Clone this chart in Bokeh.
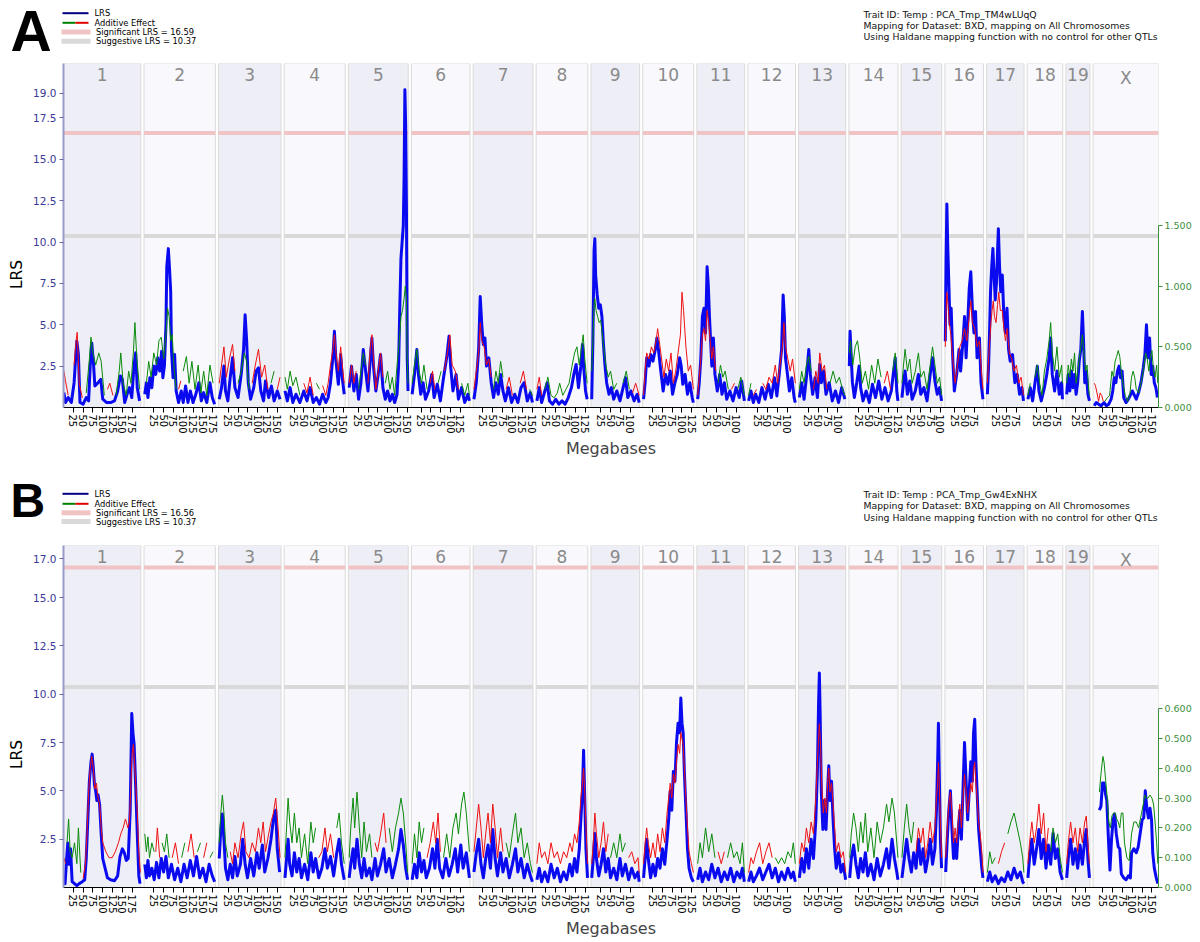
import math
from bokeh.plotting import figure
from bokeh.models import Range1d, LinearAxis, FixedTicker, CustomJSTickFormatter, NumeralTickFormatter
from bokeh.layouts import column
from bokeh.core.properties import value
from bokeh.embed import file_html
from bokeh.resources import INLINE

# ---------------- data ----------------
CHROMOSOMES = ["1", "2", "3", "4", "5", "6", "7", "8", "9", "10", "11", "12", "13",
               "14", "15", "16", "17", "18", "19", "X"]
CHR_LENGTH_MB = [197.2, 181.7, 159.6, 155.6, 152.5, 149.5, 152.5, 131.7, 124.1, 130.0,
                 121.8, 121.3, 120.3, 125.2, 103.5, 98.3, 95.3, 90.8, 61.3, 166.7]
X_TICK_MB = [25, 50, 75, 100, 125, 150, 175]

A_SIGNIFICANT = 16.59
A_SUGGESTIVE = 10.37
B_SIGNIFICANT = 16.56
B_SUGGESTIVE = 10.37
A_LRS_TICKS = [2.5, 5.0, 7.5, 10.0, 12.5, 15.0, 17.5, 19.0]
B_LRS_TICKS = [2.5, 5.0, 7.5, 10.0, 12.5, 15.0, 17.0]
A_ADD_TICKS = [0.0, 0.5, 1.0, 1.5]
B_ADD_TICKS = [0.0, 0.1, 0.2, 0.3, 0.4, 0.5, 0.6]
A_HEADER = ["Trait ID: Temp : PCA_Tmp_TM4wLUqQ",
            "Mapping for Dataset: BXD, mapping on All Chromosomes",
            "Using Haldane mapping function with no control for other QTLs"]
B_HEADER = ["Trait ID: Temp : PCA_Tmp_Gw4ExNHX",
            "Mapping for Dataset: BXD, mapping on All Chromosomes",
            "Using Haldane mapping function with no control for other QTLs"]
LEGEND_LABELS = ["LRS", "Additive Effect", "Significant LRS = %.2f", "Suggestive LRS = %.2f"]
Y_TITLE = "LRS"
X_TITLE = "Megabases"

# Panel A : (Mb, LRS) per chromosome
A_LRS_1 = [(1,0.9),(5,0.3),(12,0.6),(20,0.3),(27,1.5),(31,3.0),(34,4.0),(38,3.2),(42,0.3),(50,0.2),(58,0.6),(64,0.4),(68,2.5),(72,3.9),(76,2.8),(80,1.3),(88,1.5),(95,1.7),(100,0.5),(110,0.3),(120,0.3),(130,0.4),(138,1.0),(145,1.9),(150,1.7),(156,0.3),(162,0.8),(168,1.2),(174,0.6),(180,2.6),(184,3.3),(188,1.2),(194,0.4)]
A_LRS_2 = [(2,0.8),(6,1.5),(10,0.6),(15,1.8),(20,1.2),(25,2.5),(30,2.0),(35,3.0),(40,2.2),(45,3.4),(48,1.8),(52,2.5),(56,5.0),(58,8.5),(62,9.6),(65,8.4),(68,7.0),(70,3.5),(74,1.8),(78,3.2),(82,1.0),(88,0.3),(95,1.0),(100,0.3),(106,1.3),(112,0.3),(118,1.0),(125,0.3),(132,0.8),(140,1.5),(146,0.4),(152,0.9),(160,0.3),(168,1.5),(174,0.6),(180,0.2)]
A_LRS_3 = [(2,0.5),(8,1.2),(14,2.5),(18,1.0),(24,0.4),(30,1.8),(36,3.0),(42,1.2),(50,0.6),(58,2.0),(64,3.5),(68,5.6),(72,4.0),(76,1.5),(82,0.5),(90,1.2),(96,2.2),(102,2.4),(108,1.0),(115,0.4),(120,1.6),(128,0.6),(135,1.3),(142,0.4),(150,1.0),(157,0.5)]
A_LRS_4 = [(2,1.0),(8,0.4),(15,1.2),(22,0.3),(30,0.8),(40,0.3),(50,1.0),(58,0.4),(66,1.2),(74,0.3),(82,0.6),(90,0.2),(98,0.8),(106,0.3),(112,0.6),(118,1.5),(124,3.0),(128,4.6),(132,2.8),(138,1.4),(144,3.2),(148,1.8),(153,0.8)]
A_LRS_5 = [(2,1.2),(8,2.5),(14,1.0),(20,2.0),(26,0.5),(32,1.5),(38,3.5),(44,2.2),(50,1.0),(56,3.0),(60,4.2),(64,2.5),(70,1.0),(76,2.0),(82,3.2),(88,1.2),(94,0.5),(100,1.0),(106,0.4),(112,0.8),(118,0.3),(124,0.8),(128,2.5),(131,6.0),(134,9.0),(137,10.0),(140,11.0),(142,14.0),(144,19.2),(146,17.0),(148,12.0),(150,3.0),(152,1.0)]
A_LRS_6 = [(2,0.8),(8,2.0),(14,3.5),(18,2.0),(24,0.8),(30,1.5),(36,0.5),(44,1.0),(52,2.0),(58,0.6),(66,1.4),(74,0.4),(82,1.8),(90,3.0),(96,4.3),(100,2.5),(106,1.0),(114,2.0),(120,0.5),(128,1.2),(136,0.3),(144,0.8),(148,0.4)]
A_LRS_7 = [(2,0.5),(8,1.5),(14,3.5),(18,6.7),(22,5.0),(26,3.8),(30,4.2),(34,2.5),(40,3.0),(46,1.5),(52,0.6),(58,1.5),(64,0.8),(70,2.0),(76,1.0),(82,0.4),(90,1.2),(98,0.3),(106,0.8),(114,0.3),(122,1.2),(130,1.5),(138,0.4),(146,0.9),(151,0.3)]
A_LRS_8 = [(2,0.4),(8,1.2),(14,0.3),(20,0.8),(28,1.5),(34,0.4),(42,0.2),(50,0.5),(58,0.2),(66,0.4),(74,0.2),(82,0.6),(90,1.2),(96,2.0),(102,2.6),(108,1.2),(114,2.5),(118,3.8),(122,2.2),(126,1.0),(130,0.5)]
A_LRS_9 = [(2,0.5),(5,4.0),(8,9.5),(10,10.2),(12,8.0),(16,6.8),(20,6.0),(24,6.2),(28,5.5),(32,3.8),(36,2.5),(40,1.5),(46,0.8),(52,1.2),(58,0.5),(66,1.0),(74,0.4),(82,1.2),(88,1.8),(94,0.6),(102,1.0),(110,0.4),(118,0.8),(123,0.3)]
A_LRS_10 = [(2,0.5),(6,1.5),(10,3.0),(16,2.5),(20,3.2),(26,2.8),(32,3.5),(36,4.2),(40,3.5),(46,2.2),(52,1.0),(58,2.0),(64,1.4),(70,2.2),(76,0.8),(82,1.5),(88,2.0),(94,3.0),(98,2.5),(102,1.4),(108,2.0),(114,0.8),(120,1.5),(126,0.6),(129,0.3)]
A_LRS_11 = [(2,0.5),(6,1.5),(10,3.0),(14,5.5),(18,6.0),(22,4.5),(26,8.5),(29,7.4),(32,5.5),(35,4.0),(38,2.5),(42,4.2),(46,2.0),(52,1.0),(58,2.0),(64,0.8),(70,1.5),(76,0.5),(84,1.0),(92,0.4),(100,1.2),(108,0.6),(114,1.6),(121,0.4)]
A_LRS_12 = [(2,0.4),(8,1.0),(14,0.3),(20,0.8),(28,0.3),(36,1.2),(44,0.5),(52,1.4),(60,0.6),(68,1.8),(74,0.7),(80,2.0),(86,3.5),(90,6.8),(93,5.5),(96,3.0),(100,2.2),(106,1.0),(112,1.8),(118,0.6),(121,0.3)]
A_LRS_13 = [(2,0.6),(8,1.5),(14,0.5),(20,1.8),(26,3.5),(30,2.0),(36,0.8),(42,1.8),(48,0.6),(54,2.6),(58,1.5),(64,2.2),(70,0.8),(78,1.5),(86,0.4),(94,1.0),(102,0.3),(110,1.2),(118,0.5)]
A_LRS_14 = [(1,2.5),(3,4.6),(6,3.0),(9,1.5),(14,0.6),(20,1.5),(26,2.5),(30,1.2),(36,0.4),(44,1.0),(52,0.3),(60,1.4),(68,0.6),(76,1.6),(84,0.5),(92,1.2),(100,0.4),(108,1.0),(114,2.2),(118,3.0),(122,1.0),(125,0.4)]
A_LRS_15 = [(2,0.6),(6,1.5),(10,2.2),(16,0.8),(22,1.6),(28,0.5),(36,1.0),(44,2.0),(50,0.8),(58,1.2),(66,0.4),(74,2.0),(80,3.0),(86,1.6),(92,0.8),(98,1.2),(103,0.4)]
A_LRS_16 = [(1,4.0),(3,9.0),(5,12.3),(7,10.0),(10,7.5),(13,5.0),(16,6.0),(20,3.0),(24,1.0),(30,2.0),(36,3.5),(40,2.2),(46,4.0),(50,5.5),(54,3.0),(58,5.0),(62,7.2),(66,8.2),(70,6.0),(74,4.5),(78,5.8),(82,3.0),(88,4.2),(92,1.5),(97,0.5)]
A_LRS_17 = [(2,0.8),(5,2.5),(8,5.0),(10,7.0),(13,8.5),(16,9.6),(19,8.0),(22,6.5),(25,7.5),(28,9.5),(30,10.8),(33,8.5),(36,7.0),(40,8.0),(44,5.5),(48,4.5),(52,6.0),(56,3.5),(60,2.8),(66,3.2),(72,1.5),(78,2.0),(84,0.8),(90,1.2),(94,0.4)]
A_LRS_18 = [(2,0.5),(8,1.2),(14,0.4),(20,1.5),(26,2.5),(30,1.0),(36,0.4),(44,1.2),(50,2.0),(56,3.0),(60,4.2),(64,2.0),(70,1.0),(76,2.2),(82,0.8),(88,1.5),(90,0.5)]
A_LRS_19 = [(2,0.8),(6,2.0),(10,1.0),(14,2.2),(18,1.2),(22,2.0),(26,0.8),(30,1.5),(34,2.8),(38,3.5),(42,5.8),(45,4.0),(48,1.5),(52,2.2),(56,0.8),(60,0.4)]
A_LRS_X = [(3,0.1),(8,0.3),(14,0.2),(20,0.1),(28,0.3),(34,0.1),(40,0.2),(46,0.5),(50,1.0),(54,1.8),(58,1.5),(62,2.2),(66,2.5),(70,1.8),(74,2.2),(78,0.6),(84,0.3),(90,0.5),(96,0.8),(100,1.0),(104,0.8),(110,0.5),(116,0.9),(122,1.5),(128,2.4),(132,3.2),(136,5.0),(140,3.0),(144,4.2),(148,2.0),(152,2.5),(156,1.5),(160,1.2),(164,0.6)]

# Panel A : (Mb, additive effect) per chromosome, sign gives the colour
A_ADD_1 = [(1,-0.3),(5,-0.22),(12,-0.1),(20,0.15),(27,-0.35),(32,-0.55),(35,-0.62),(40,-0.2),(48,-0.08),(58,0.12),(66,0.4),(70,0.58),(75,0.45),(82,0.35),(90,0.45),(96,0.38),(104,0.1),(112,-0.15),(118,-0.2),(126,-0.1),(134,0.1),(142,0.3),(146,0.45),(152,0.2),(160,0.1),(166,0.3),(172,0.2),(178,0.45),(182,0.7),(187,0.4),(194,0.15)]
A_ADD_2 = [(2,-0.3),(6,0.2),(12,0.38),(18,0.25),(25,0.45),(32,0.35),(38,0.55),(44,0.58),(50,0.4),(56,0.6),(60,0.82),(64,0.75),(68,0.55),(72,0.6),(76,0.35),(82,0.15),(88,-0.15),(94,-0.22),(100,0.3),(108,0.42),(115,0.2),(122,0.38),(130,0.15),(138,0.35),(145,0.12),(152,0.3),(160,0.1),(168,0.35),(176,0.2)]
A_ADD_3 = [(2,-0.2),(8,-0.35),(14,-0.5),(20,-0.25),(28,-0.4),(36,-0.52),(42,-0.3),(50,0.2),(58,0.3),(66,0.45),(72,0.38),(78,0.15),(86,-0.2),(94,-0.35),(102,-0.48),(110,-0.25),(118,-0.35),(126,-0.15),(134,0.2),(142,0.3),(150,-0.15),(157,-0.25)]
A_ADD_4 = [(2,0.25),(8,0.15),(15,0.3),(22,0.18),(30,0.25),(40,0.1),(50,-0.2),(58,-0.12),(66,-0.25),(74,-0.1),(82,0.2),(90,0.15),(98,-0.18),(106,-0.1),(112,-0.2),(118,-0.35),(124,-0.48),(128,-0.6),(132,-0.45),(138,-0.3),(144,-0.5),(148,-0.35),(153,-0.2)]
A_ADD_5 = [(2,-0.2),(8,-0.35),(14,-0.2),(20,-0.3),(26,0.15),(32,0.3),(38,0.45),(44,0.35),(50,-0.2),(56,-0.5),(60,-0.6),(64,-0.4),(70,-0.15),(76,-0.3),(82,-0.45),(88,-0.25),(94,0.2),(100,0.3),(106,0.15),(112,0.25),(118,0.1),(124,0.35),(130,0.55),(134,0.75),(138,0.8),(142,0.9),(145,1.0),(148,0.9),(150,0.4),(152,0.2)]
A_ADD_6 = [(2,0.2),(8,0.35),(14,0.48),(20,0.3),(26,0.2),(32,0.35),(40,0.15),(48,-0.2),(54,-0.3),(60,-0.15),(68,0.2),(76,0.3),(84,-0.3),(92,-0.45),(98,-0.6),(104,-0.35),(112,-0.3),(120,-0.15),(128,0.2),(136,0.1),(144,0.2),(148,0.1)]
A_ADD_7 = [(2,-0.15),(8,-0.3),(14,-0.45),(18,-0.7),(22,-0.55),(28,-0.5),(34,-0.35),(40,-0.4),(46,-0.25),(52,0.15),(58,0.3),(64,0.2),(70,0.38),(76,0.25),(84,-0.15),(92,-0.25),(100,-0.1),(110,0.15),(120,-0.2),(128,-0.3),(136,-0.15),(144,0.15),(151,0.1)]
A_ADD_8 = [(2,-0.15),(8,-0.25),(14,-0.1),(22,0.15),(30,0.25),(38,0.1),(46,0.08),(54,0.12),(60,0.2),(68,0.1),(76,0.15),(84,0.2),(92,0.35),(98,0.45),(104,0.5),(110,0.35),(116,0.5),(120,0.6),(124,0.4),(130,0.2)]
A_ADD_9 = [(2,0.3),(5,0.55),(8,0.85),(10,0.9),(13,0.8),(17,0.75),(21,0.7),(25,0.72),(29,0.6),(33,0.48),(38,0.35),(44,0.25),(50,0.3),(58,0.15),(66,0.2),(74,-0.1),(82,0.2),(90,0.3),(98,0.15),(106,-0.12),(114,-0.2),(123,-0.1)]
A_ADD_10 = [(2,-0.1),(6,-0.3),(10,-0.45),(16,-0.4),(22,-0.5),(28,-0.45),(34,-0.55),(38,-0.65),(42,-0.55),(48,-0.4),(54,-0.25),(60,-0.4),(66,-0.3),(72,-0.45),(78,-0.2),(84,-0.3),(90,-0.45),(96,-0.6),(100,-0.95),(104,-0.8),(110,-0.5),(116,-0.3),(122,-0.35),(129,-0.15)]
A_ADD_11 = [(2,-0.1),(6,-0.25),(10,-0.4),(14,-0.6),(18,-0.65),(22,-0.55),(26,-0.8),(30,-0.7),(34,-0.55),(38,-0.4),(42,-0.5),(48,-0.3),(54,0.2),(60,0.35),(66,0.25),(72,0.3),(80,0.15),(88,-0.15),(96,-0.2),(104,0.15),(112,0.25),(121,0.1)]
A_ADD_12 = [(2,0.1),(8,0.2),(14,-0.1),(22,-0.15),(30,0.1),(38,-0.2),(46,-0.15),(54,-0.25),(62,-0.2),(70,-0.35),(76,-0.2),(82,-0.35),(88,-0.5),(92,-0.7),(96,-0.5),(102,-0.4),(108,-0.3),(114,-0.4),(121,-0.2)]
A_ADD_13 = [(2,0.15),(8,0.3),(14,0.2),(20,0.35),(26,0.42),(32,0.3),(38,-0.15),(44,-0.3),(50,-0.2),(54,-0.45),(60,-0.3),(66,-0.35),(72,-0.15),(80,0.2),(88,0.3),(96,0.2),(104,0.25),(112,0.15),(118,0.1)]
A_ADD_14 = [(1,0.45),(4,0.55),(10,0.35),(16,0.5),(22,0.55),(28,0.4),(34,0.2),(42,0.3),(50,0.15),(58,0.35),(66,0.2),(74,0.4),(82,0.25),(90,-0.2),(98,-0.3),(106,-0.15),(112,0.3),(118,0.45),(125,0.2)]
A_ADD_15 = [(2,0.2),(6,0.35),(10,0.48),(16,0.3),(22,0.4),(28,0.2),(36,0.3),(44,0.45),(50,0.25),(58,0.3),(66,0.15),(74,0.35),(80,0.5),(86,0.35),(92,0.2),(98,0.25),(103,0.1)]
A_ADD_16 = [(1,-0.5),(3,-0.8),(5,-0.95),(8,-0.85),(11,-0.7),(15,-0.6),(20,-0.4),(26,-0.2),(32,-0.35),(38,-0.5),(44,-0.55),(50,-0.65),(56,-0.55),(62,-0.75),(66,-0.88),(70,-0.7),(76,-0.65),(82,-0.5),(88,-0.55),(93,-0.3),(97,-0.15)]
A_ADD_17 = [(2,-0.2),(5,-0.4),(8,-0.55),(11,-0.7),(14,-0.8),(17,-0.88),(20,-0.75),(24,-0.7),(28,-0.85),(31,-0.95),(35,-0.8),(40,-0.8),(44,-0.65),(48,-0.55),(52,-0.65),(58,-0.45),(64,-0.4),(70,-0.3),(76,-0.35),(82,-0.2),(88,-0.25),(94,-0.1)]
A_ADD_18 = [(2,0.1),(8,0.2),(14,-0.1),(20,0.25),(26,0.35),(32,0.2),(38,0.1),(44,0.3),(50,0.4),(56,0.55),(60,0.7),(64,0.45),(70,0.3),(76,0.5),(82,0.25),(88,0.35),(90,0.2)]
A_ADD_19 = [(2,0.2),(6,0.35),(10,0.25),(14,0.4),(18,0.3),(22,0.45),(26,0.2),(30,0.3),(34,0.4),(38,0.5),(42,0.6),(46,0.45),(50,0.3),(54,0.35),(58,0.15),(60,0.1)]
A_ADD_X = [(3,-0.2),(6,-0.18),(10,-0.12),(14,-0.05),(18,-0.12),(22,-0.1),(26,-0.05),(30,0.05),(36,0.08),(42,0.1),(48,0.3),(52,0.25),(56,0.38),(60,0.42),(64,0.47),(68,0.42),(72,0.3),(76,0.2),(82,0.1),(88,0.05),(94,0.12),(98,0.25),(102,0.3),(106,0.25),(110,0.15),(116,0.12),(122,0.2),(128,0.3),(134,0.45),(138,0.4),(142,0.3),(146,0.42),(150,0.47),(154,0.3),(158,0.25),(162,0.35),(165,0.2)]

# Panel B : (Mb, LRS) per chromosome
B_LRS_1 = [(1,0.3),(4,0.2),(8,1.5),(11,2.3),(14,1.2),(18,2.0),(22,0.3),(28,0.2),(34,0.1),(40,0.2),(48,0.3),(54,0.4),(58,1.5),(62,3.5),(66,5.5),(70,6.5),(73,6.9),(76,6.2),(79,5.3),(82,5.0),(85,4.5),(88,4.8),(92,4.3),(96,2.8),(100,1.5),(106,1.0),(112,0.5),(120,0.4),(130,0.35),(138,0.6),(144,1.6),(150,2.0),(155,1.8),(160,1.4),(165,1.5),(170,4.0),(174,9.0),(177,8.0),(180,7.4),(184,5.2),(188,2.8),(192,0.6),(195,0.2)]
B_LRS_2 = [(2,1.2),(6,0.5),(10,1.4),(14,0.6),(20,1.0),(26,0.4),(32,1.3),(38,0.5),(44,1.5),(50,0.8),(56,1.6),(62,0.5),(70,1.2),(78,0.4),(86,1.0),(94,0.3),(102,1.2),(110,0.5),(118,1.4),(126,0.6),(134,1.6),(142,0.5),(150,1.0),(158,0.3),(166,1.2),(174,0.6),(180,0.3)]
B_LRS_3 = [(2,1.5),(6,3.0),(10,3.8),(14,2.5),(18,1.0),(24,0.4),(30,1.2),(36,0.5),(42,1.6),(48,0.6),(56,1.2),(62,2.5),(68,1.2),(74,0.5),(82,1.5),(90,0.6),(98,1.8),(104,1.0),(112,2.2),(118,0.8),(126,1.5),(134,2.5),(140,3.5),(146,4.0),(150,2.0),(156,0.8)]
B_LRS_4 = [(2,0.5),(6,1.5),(10,2.5),(14,1.2),(20,0.6),(26,1.8),(32,0.8),(38,1.5),(44,0.5),(52,1.2),(60,0.4),(68,1.8),(74,0.8),(80,1.5),(88,0.5),(96,1.0),(104,2.0),(110,1.0),(118,1.6),(126,0.6),(134,1.8),(140,2.5),(146,1.2),(153,0.4)]
B_LRS_5 = [(2,0.5),(6,1.2),(12,2.0),(16,1.0),(22,2.5),(28,1.2),(34,0.5),(40,1.5),(46,0.6),(54,1.0),(60,0.4),(68,1.5),(74,0.6),(82,1.2),(90,2.0),(96,0.8),(104,1.5),(112,0.5),(120,1.2),(128,2.0),(134,3.0),(140,2.2),(146,1.0),(151,0.4)]
B_LRS_6 = [(2,0.4),(8,1.2),(14,0.5),(20,1.8),(26,0.8),(32,1.4),(38,0.5),(46,1.0),(54,2.0),(60,1.0),(66,2.5),(72,1.0),(80,0.5),(88,1.5),(96,0.6),(104,1.2),(112,2.0),(118,0.8),(126,2.2),(132,1.0),(140,1.8),(148,0.5)]
B_LRS_7 = [(2,0.8),(8,1.8),(14,2.5),(20,1.2),(26,0.5),(32,1.5),(38,2.2),(44,1.0),(50,3.0),(56,1.5),(62,0.6),(70,1.8),(76,0.8),(84,1.5),(92,0.5),(100,1.2),(108,2.0),(114,0.8),(122,1.5),(130,0.5),(138,1.2),(146,0.6),(151,0.3)]
B_LRS_8 = [(2,0.4),(8,1.0),(14,0.3),(22,0.8),(30,0.3),(38,1.2),(46,0.5),(54,1.0),(62,0.3),(70,0.8),(78,0.4),(86,1.2),(92,0.6),(98,1.5),(104,0.8),(110,2.0),(114,3.5),(118,5.0),(121,7.1),(124,4.5),(127,2.0),(131,0.5)]
B_LRS_9 = [(2,0.5),(6,1.5),(10,2.8),(14,1.5),(20,0.6),(26,1.2),(32,2.0),(38,0.8),(44,1.5),(50,0.5),(58,1.0),(66,0.4),(74,1.5),(80,0.6),(88,1.2),(96,0.4),(104,1.0),(112,0.5),(120,0.8),(123,0.3)]
B_LRS_10 = [(2,0.5),(6,1.5),(10,2.5),(14,1.5),(20,0.5),(26,1.2),(32,0.6),(38,1.5),(44,1.0),(50,2.0),(56,1.2),(62,2.5),(66,3.5),(70,5.0),(74,4.0),(78,6.0),(82,5.5),(86,7.5),(90,8.5),(94,8.0),(97,9.8),(100,8.5),(103,8.0),(106,6.0),(110,4.0),(114,2.0),(118,1.0),(124,0.5),(129,0.3)]
B_LRS_11 = [(2,0.4),(8,1.0),(14,0.3),(22,0.8),(30,0.4),(38,1.2),(46,0.5),(54,1.0),(62,0.3),(70,0.8),(78,0.4),(86,1.0),(94,0.3),(102,0.8),(110,0.5),(116,1.0),(121,0.3)]
B_LRS_12 = [(2,0.3),(8,0.8),(14,0.3),(22,0.6),(30,1.0),(38,0.4),(46,0.8),(54,1.2),(62,0.5),(70,1.0),(78,0.3),(86,0.8),(94,0.4),(102,1.0),(110,0.5),(116,0.8),(121,0.3)]
B_LRS_13 = [(2,0.5),(8,1.5),(14,0.8),(20,2.0),(26,1.0),(32,2.5),(38,1.5),(44,3.5),(48,6.0),(51,9.5),(53,11.1),(55,9.0),(58,5.0),(62,3.0),(66,4.5),(70,3.0),(74,5.0),(77,6.3),(80,4.5),(84,5.5),(88,3.5),(92,2.0),(96,1.0),(102,1.8),(108,0.8),(114,1.2),(120,0.4)]
B_LRS_14 = [(2,0.5),(6,1.5),(12,2.2),(18,1.2),(24,0.5),(30,1.5),(36,0.8),(42,1.8),(48,0.6),(56,1.2),(64,0.4),(72,1.5),(80,0.6),(88,1.2),(96,2.0),(102,1.0),(110,2.5),(116,1.5),(122,0.8),(125,0.4)]
B_LRS_15 = [(2,0.5),(8,1.5),(14,2.5),(20,1.5),(26,0.8),(32,1.8),(38,1.0),(44,2.5),(50,1.2),(56,2.0),(62,0.8),(68,1.5),(74,2.5),(80,1.2),(86,2.0),(90,4.0),(93,6.5),(95,8.5),(97,6.0),(100,2.5),(103,1.0)]
B_LRS_16 = [(2,0.8),(6,2.5),(10,4.0),(14,5.0),(18,3.0),(22,1.5),(26,2.5),(30,1.5),(34,3.0),(38,4.0),(42,2.5),(46,5.0),(50,7.5),(54,5.5),(58,3.5),(62,5.0),(66,6.5),(70,5.5),(73,8.0),(76,8.7),(79,6.5),(82,5.0),(86,3.0),(90,2.0),(94,1.0),(97,0.5)]
B_LRS_17 = [(2,0.3),(8,0.8),(14,0.3),(22,0.6),(30,0.2),(38,0.5),(46,0.3),(54,0.8),(62,0.4),(70,1.0),(78,0.5),(86,0.8),(92,0.3),(95,0.2)]
B_LRS_18 = [(2,0.5),(6,1.5),(12,2.5),(18,1.2),(24,2.0),(30,3.0),(36,1.5),(42,2.5),(48,1.0),(54,2.2),(60,1.2),(66,2.8),(72,1.5),(78,2.0),(84,0.8),(90,0.4)]
B_LRS_19 = [(2,0.5),(6,1.5),(12,2.5),(18,1.2),(24,2.0),(30,1.0),(36,2.2),(42,1.2),(48,2.5),(52,3.0),(56,1.5),(60,0.5)]
B_LRS_X = [(16,4.0),(20,4.2),(24,5.4),(28,5.4),(32,4.8),(35,4.5),(38,3.0),(40,2.1),(43,0.9),(47,2.5),(51,3.5),(55,3.8),(59,2.8),(64,2.1),(68,2.0),(72,0.7),(78,0.5),(84,0.4),(90,0.6),(95,0.5),(98,1.8),(104,2.0),(110,1.8),(115,2.1),(120,2.8),(125,3.5),(129,3.6),(133,5.0),(137,4.1),(141,3.6),(145,4.1),(149,3.5),(152,1.8),(156,1.0),(161,0.5),(165,0.2)]

# Panel B : (Mb, additive effect) per chromosome
B_ADD_1 = [(1,-0.1),(5,-0.08),(9,0.15),(13,0.23),(17,0.12),(22,0.1),(28,0.15),(34,0.08),(38,0.2),(44,0.05),(50,-0.03),(56,-0.08),(60,-0.18),(64,-0.32),(68,-0.4),(72,-0.44),(76,-0.4),(80,-0.33),(84,-0.35),(88,-0.3),(92,-0.28),(96,-0.2),(100,-0.15),(108,-0.12),(116,-0.1),(124,-0.1),(132,-0.12),(140,-0.15),(146,-0.18),(152,-0.2),(158,-0.23),(164,-0.2),(168,-0.22),(172,-0.35),(175,-0.45),(178,-0.48),(181,-0.42),(184,-0.35),(188,-0.25),(192,-0.12),(196,-0.05)]
B_ADD_2 = [(2,0.18),(6,0.12),(10,0.17),(14,0.1),(20,0.15),(26,0.12),(30,-0.12),(34,-0.2),(40,-0.1),(46,0.15),(52,0.12),(58,0.18),(64,0.1),(72,-0.1),(80,-0.15),(88,-0.08),(96,0.1),(104,0.15),(112,-0.12),(120,-0.18),(128,-0.1),(136,0.12),(144,0.15),(152,-0.1),(160,-0.15),(168,0.1),(176,0.12)]
B_ADD_3 = [(2,0.15),(6,0.25),(10,0.31),(14,0.25),(18,0.15),(24,0.1),(30,-0.12),(36,-0.08),(42,-0.15),(50,-0.1),(58,-0.18),(64,-0.22),(70,-0.12),(78,-0.1),(86,-0.15),(94,-0.12),(102,-0.2),(108,-0.15),(114,-0.22),(120,-0.12),(128,-0.18),(134,-0.22),(140,-0.25),(146,-0.3),(152,-0.2),(157,-0.1)]
B_ADD_4 = [(2,0.1),(6,0.2),(10,0.3),(14,0.22),(20,0.15),(26,0.25),(32,0.15),(38,0.2),(44,0.1),(52,0.18),(60,0.08),(68,0.22),(74,0.15),(80,0.2),(88,-0.1),(96,-0.12),(104,-0.2),(110,-0.12),(118,-0.18),(126,-0.1),(134,0.2),(140,0.25),(146,0.15),(153,0.08)]
B_ADD_5 = [(2,0.1),(6,0.2),(12,0.3),(16,0.2),(22,0.32),(28,0.2),(34,0.1),(40,0.22),(46,0.12),(54,0.18),(60,0.1),(68,-0.15),(74,-0.12),(82,-0.18),(90,-0.25),(96,-0.15),(104,0.2),(112,0.12),(120,0.2),(128,0.25),(134,0.3),(140,0.25),(146,0.15),(151,0.05)]
B_ADD_6 = [(2,0.08),(8,0.18),(14,0.1),(20,0.22),(26,0.15),(32,0.2),(40,-0.1),(48,-0.15),(56,-0.22),(62,-0.15),(68,-0.25),(74,-0.12),(82,0.1),(90,0.18),(98,0.1),(106,0.2),(114,0.25),(120,0.18),(128,0.28),(134,0.32),(140,0.25),(148,0.12)]
B_ADD_7 = [(2,-0.12),(8,-0.2),(14,-0.28),(20,-0.2),(26,-0.1),(32,-0.18),(38,-0.25),(44,-0.15),(50,-0.28),(56,-0.2),(62,-0.1),(70,-0.2),(76,-0.12),(84,0.15),(92,0.1),(100,0.18),(108,0.25),(114,0.15),(122,0.2),(130,0.1),(138,0.15),(146,0.08),(151,0.05)]
B_ADD_8 = [(2,-0.08),(8,-0.15),(14,-0.1),(22,-0.12),(30,-0.08),(38,-0.15),(46,-0.1),(54,-0.12),(62,-0.08),(70,-0.12),(78,-0.1),(86,-0.15),(92,-0.12),(98,-0.18),(104,-0.15),(110,-0.22),(114,-0.3),(118,-0.35),(121,-0.4),(124,-0.32),(127,-0.2),(131,-0.08)]
B_ADD_9 = [(2,-0.08),(6,-0.15),(10,-0.25),(14,-0.18),(20,-0.1),(26,-0.15),(32,-0.22),(38,-0.12),(44,-0.18),(50,0.1),(58,0.15),(66,0.1),(74,0.18),(80,0.12),(88,0.15),(96,-0.1),(104,-0.12),(112,-0.08),(120,-0.1),(123,-0.05)]
B_ADD_10 = [(2,-0.08),(6,-0.15),(10,-0.2),(14,-0.15),(20,-0.1),(26,-0.15),(32,-0.1),(38,-0.18),(44,-0.12),(50,-0.2),(56,-0.15),(62,-0.25),(66,-0.3),(70,-0.35),(74,-0.3),(78,-0.38),(82,-0.35),(86,-0.42),(90,-0.48),(94,-0.45),(97,-0.52),(100,-0.5),(103,-0.48),(106,-0.4),(110,-0.3),(114,-0.2),(118,-0.12),(124,-0.08),(129,-0.05)]
B_ADD_11 = [(2,0.08),(8,0.15),(14,0.1),(22,0.2),(30,0.12),(38,0.18),(46,0.1),(54,-0.12),(62,-0.08),(70,-0.12),(78,0.1),(86,0.15),(94,0.1),(102,0.12),(110,0.08),(116,0.15),(121,0.05)]
B_ADD_12 = [(2,-0.05),(8,-0.1),(14,-0.08),(22,-0.12),(30,-0.15),(38,-0.08),(46,-0.12),(54,-0.15),(62,-0.1),(70,0.1),(78,0.08),(86,0.1),(94,0.08),(102,0.12),(110,0.1),(116,0.15),(121,0.08)]
B_ADD_13 = [(2,-0.08),(8,-0.15),(14,-0.12),(20,-0.2),(26,-0.15),(32,-0.22),(38,-0.18),(44,-0.3),(48,-0.42),(51,-0.5),(53,-0.55),(56,-0.48),(59,-0.35),(63,-0.25),(67,-0.3),(71,-0.25),(74,-0.35),(77,-0.4),(80,-0.32),(84,-0.35),(88,-0.28),(92,-0.2),(96,-0.12),(102,-0.15),(108,-0.1),(114,-0.12),(120,-0.05)]
B_ADD_14 = [(2,0.1),(6,0.18),(12,0.25),(18,0.2),(24,0.12),(30,0.22),(36,0.15),(42,0.25),(48,0.12),(56,0.2),(64,0.1),(72,0.22),(80,0.15),(88,0.2),(96,0.28),(102,0.22),(110,0.3),(116,0.25),(122,0.15),(125,0.1)]
B_ADD_15 = [(2,0.1),(8,0.2),(14,0.28),(20,0.2),(26,0.15),(32,0.22),(38,-0.12),(44,-0.2),(50,-0.15),(56,-0.2),(62,-0.1),(68,-0.15),(74,-0.22),(80,-0.15),(86,-0.2),(90,-0.3),(93,-0.35),(95,-0.42),(97,-0.35),(100,-0.22),(103,-0.1)]
B_ADD_16 = [(2,-0.1),(6,-0.2),(10,-0.28),(14,-0.32),(18,-0.25),(22,-0.15),(26,-0.2),(30,-0.15),(34,-0.22),(38,-0.28),(42,-0.2),(46,-0.3),(50,-0.38),(54,-0.32),(58,-0.25),(62,-0.3),(66,-0.35),(70,-0.32),(73,-0.4),(76,-0.42),(79,-0.35),(82,-0.3),(86,-0.22),(90,-0.18),(94,-0.12),(97,-0.05)]
B_ADD_17 = [(2,0.05),(8,0.12),(14,0.08),(22,0.1),(30,-0.08),(38,-0.12),(46,-0.15),(54,0.18),(62,0.22),(70,0.25),(78,0.2),(86,0.15),(92,0.1),(95,0.05)]
B_ADD_18 = [(2,-0.08),(6,-0.15),(12,-0.22),(18,-0.15),(24,-0.2),(30,-0.28),(36,-0.18),(42,-0.25),(48,-0.12),(54,-0.2),(60,0.12),(66,0.2),(72,0.15),(78,0.18),(84,0.1),(90,0.05)]
B_ADD_19 = [(2,-0.08),(6,-0.15),(12,-0.22),(18,-0.15),(24,-0.2),(30,-0.12),(36,-0.2),(42,-0.15),(48,-0.22),(52,-0.24),(56,-0.15),(60,-0.08)]
B_ADD_X = [(16,0.32),(20,0.38),(25,0.44),(28,0.42),(32,0.36),(36,0.3),(40,0.22),(44,0.2),(48,0.24),(52,0.25),(56,0.25),(60,0.23),(64,0.22),(68,0.2),(72,0.25),(76,0.25),(80,0.15),(86,0.1),(92,0.09),(98,0.18),(104,0.22),(110,0.22),(116,0.2),(122,0.24),(128,0.28),(132,0.31),(136,0.3),(140,0.3),(145,0.31),(150,0.3),(154,0.28),(158,0.22),(162,0.15),(165,0.08)]

A_LRS = [A_LRS_1, A_LRS_2, A_LRS_3, A_LRS_4, A_LRS_5, A_LRS_6, A_LRS_7, A_LRS_8, A_LRS_9, A_LRS_10,
         A_LRS_11, A_LRS_12, A_LRS_13, A_LRS_14, A_LRS_15, A_LRS_16, A_LRS_17, A_LRS_18, A_LRS_19, A_LRS_X]
A_ADD = [A_ADD_1, A_ADD_2, A_ADD_3, A_ADD_4, A_ADD_5, A_ADD_6, A_ADD_7, A_ADD_8, A_ADD_9, A_ADD_10,
         A_ADD_11, A_ADD_12, A_ADD_13, A_ADD_14, A_ADD_15, A_ADD_16, A_ADD_17, A_ADD_18, A_ADD_19, A_ADD_X]
B_LRS = [B_LRS_1, B_LRS_2, B_LRS_3, B_LRS_4, B_LRS_5, B_LRS_6, B_LRS_7, B_LRS_8, B_LRS_9, B_LRS_10,
         B_LRS_11, B_LRS_12, B_LRS_13, B_LRS_14, B_LRS_15, B_LRS_16, B_LRS_17, B_LRS_18, B_LRS_19, B_LRS_X]
B_ADD = [B_ADD_1, B_ADD_2, B_ADD_3, B_ADD_4, B_ADD_5, B_ADD_6, B_ADD_7, B_ADD_8, B_ADD_9, B_ADD_10,
         B_ADD_11, B_ADD_12, B_ADD_13, B_ADD_14, B_ADD_15, B_ADD_16, B_ADD_17, B_ADD_18, B_ADD_19, B_ADD_X]

# ---------------- layout helpers ----------------
GAP = 8.0
STARTS = []
_acc = 0.0
for _L in CHR_LENGTH_MB:
    STARTS.append(_acc)
    _acc += _L + GAP
ENDS = [s + L for s, L in zip(STARTS, CHR_LENGTH_MB)]
TOTAL = ENDS[-1]
NAN = float("nan")
FONT = value("DejaVu Sans")
W = 1200
FRAME_L, FRAME_R = 63, 1158


def make_panel(fig_top, fig_h, frame_top, frame_bottom, lrs_px_per_unit, add_px_per_unit,
               lrs_ticks, add_ticks, sig, sug, lrs_lists, add_lists,
               letter, letter_size, letter_cy, legend_y, header_lines, header_y, ytitle_cy):
    frame_h = frame_bottom - frame_top
    y_max = frame_h / lrs_px_per_unit
    add_max = frame_h / add_px_per_unit

    def dx(img_x):
        return (img_x - FRAME_L) * TOTAL / (FRAME_R - FRAME_L)

    def dy(img_y):
        return (frame_bottom - img_y) / lrs_px_per_unit

    p = figure(width=W, height=fig_h, x_range=Range1d(0, TOTAL), y_range=Range1d(0, y_max),
               output_backend="svg", toolbar_location=None,
               min_border_left=FRAME_L, min_border_right=W - FRAME_R,
               min_border_top=frame_top - fig_top,
               min_border_bottom=fig_top + fig_h - frame_bottom)
    p.extra_y_ranges = {"add": Range1d(0, add_max)}
    p.grid.visible = False
    p.outline_line_color = None

    n = len(STARTS)
    fills = ["#eeeef7" if i % 2 == 0 else "#f9f9fd" for i in range(n)]
    p.quad(left=STARTS, right=ENDS, bottom=0, top=y_max, fill_color=fills,
           line_color="#dadada", line_width=1)
    p.segment(x0=STARTS, x1=ENDS, y0=[sig] * n, y1=[sig] * n, line_color="#f0c4c4", line_width=4)
    p.segment(x0=STARTS, x1=ENDS, y0=[sug] * n, y1=[sug] * n, line_color="#d9d9d9", line_width=4)
    p.text(x=[(s + e) / 2 for s, e in zip(STARTS, ENDS)], y=[y_max] * n, text=CHROMOSOMES,
           text_align="center", text_baseline="top", y_offset=4, text_font=FONT,
           text_font_size="17px", text_color="#8a8a8a")

    xs, ys = [], []
    for s, pts in zip(STARTS, lrs_lists):
        for m, v in pts:
            xs.append(s + m)
            ys.append(v)
        xs.append(NAN)
        ys.append(NAN)
    p.line(xs, ys, line_color="#0a0af0", line_width=3, line_join="round")

    gx, gy, rx, ry = [], [], [], []
    for s, pts in zip(STARTS, add_lists):
        for m, v in pts:
            gx.append(s + m)
            rx.append(s + m)
            gy.append(v if v >= 0 else NAN)
            ry.append(-v if v < 0 else NAN)
        gx.append(NAN); gy.append(NAN); rx.append(NAN); ry.append(NAN)
    p.line(gx, gy, line_color="#0b8a0b", line_width=1, y_range_name="add")
    p.line(rx, ry, line_color="#ee1111", line_width=1, y_range_name="add")

    # ---- header area (drawn unclipped outside the frame) ----
    p.text(x=[dx(10)], y=[dy(letter_cy)], text=[letter], text_font=value("Liberation Sans"),
           text_font_style="bold", text_font_size=letter_size, text_color="black",
           text_baseline="middle", level="overlay")
    l0, l1, l2, l3 = legend_y
    p.segment(x0=[dx(62)], x1=[dx(88)], y0=[dy(l0)], y1=[dy(l0)], line_color="#000080",
              line_width=2, level="overlay")
    p.segment(x0=[dx(62)], x1=[dx(75)], y0=[dy(l1)], y1=[dy(l1)], line_color="#008000",
              line_width=2, level="overlay")
    p.segment(x0=[dx(75)], x1=[dx(88)], y0=[dy(l1)], y1=[dy(l1)], line_color="#e00000",
              line_width=2, level="overlay")
    p.segment(x0=[dx(61)], x1=[dx(90)], y0=[dy(l2)], y1=[dy(l2)], line_color="#f0c4c4",
              line_width=5, level="overlay")
    p.segment(x0=[dx(61)], x1=[dx(90)], y0=[dy(l3)], y1=[dy(l3)], line_color="#d9d9d9",
              line_width=5, level="overlay")
    legend_texts = [LEGEND_LABELS[0], LEGEND_LABELS[1], LEGEND_LABELS[2] % sig,
                    LEGEND_LABELS[3] % sug]
    p.text(x=[dx(94), dx(94), dx(95.5), dx(95.5)], y=[dy(v) for v in legend_y],
           text=legend_texts, text_font=FONT, text_font_size="8.3px", text_color="black",
           text_baseline="middle", level="overlay")
    p.text(x=[dx(863)] * 3, y=[dy(v) for v in header_y], text=header_lines, text_font=FONT,
           text_font_size="9.3px", text_color="#111111", text_baseline="middle", level="overlay")
    # y-axis title (placed as in the reference, below the frame centre)
    p.text(x=[dx(16)], y=[dy(ytitle_cy)], text=[Y_TITLE], angle=math.pi / 2,
           text_align="center", text_baseline="middle", text_font=FONT,
           text_font_size="15.5px", text_color="black", level="overlay")

    # ---- x axis ----
    xt = []
    for s, L in zip(STARTS, CHR_LENGTH_MB):
        for t in X_TICK_MB:
            if t < L:
                xt.append(s + t)
    xa = p.xaxis[0]
    xa.ticker = FixedTicker(ticks=xt, minor_ticks=[])
    xa.formatter = CustomJSTickFormatter(args=dict(starts=STARTS), code="""
        for (let i = starts.length - 1; i >= 0; i--) {
            if (tick >= starts[i] - 0.5) { return String(Math.round(tick - starts[i])); }
        }
        return "";
    """)
    xa.major_label_orientation = -math.pi / 2
    xa.major_label_text_font = "DejaVu Sans"
    xa.major_label_text_font_size = "10px"
    xa.major_label_text_color = "black"
    xa.major_tick_out = 5
    xa.major_tick_in = 0
    xa.major_label_standoff = 2
    xa.axis_line_color = "black"
    xa.major_tick_line_color = "black"
    xa.axis_label = X_TITLE
    xa.axis_label_text_font = "DejaVu Sans"
    xa.axis_label_text_font_size = "16px"
    xa.axis_label_text_font_style = "normal"
    xa.axis_label_standoff = 2

    # ---- left (LRS) axis ----
    ya = p.yaxis[0]
    ya.ticker = FixedTicker(ticks=lrs_ticks, minor_ticks=[])
    ya.formatter = NumeralTickFormatter(format="0.0")
    ya.axis_line_color = "#9a9ac8"
    ya.axis_line_width = 2
    ya.major_tick_line_color = "#6a6aa8"
    ya.major_tick_out = 4
    ya.major_tick_in = 0
    ya.major_label_standoff = 3
    ya.major_label_text_color = "#3a3a96"
    ya.major_label_text_font = "DejaVu Sans"
    ya.major_label_text_font_size = "10.5px"

    # ---- right (additive effect) axis ----
    ra = LinearAxis(y_range_name="add", ticker=FixedTicker(ticks=add_ticks, minor_ticks=[]),
                    formatter=NumeralTickFormatter(format="0.000"),
                    bounds=(add_ticks[0], add_ticks[-1]))
    ra.axis_line_color = "#3c8f3c"
    ra.major_tick_line_color = "#3c8f3c"
    ra.major_tick_out = 4
    ra.major_tick_in = 0
    ra.major_label_standoff = 2
    ra.major_label_text_color = "#3c8f3c"
    ra.major_label_text_font = "DejaVu Sans"
    ra.major_label_text_font_size = "9.5px"
    p.add_layout(ra, "right")
    return p


pA = make_panel(0, 470, 63, 407, 16.55, 121.3, A_LRS_TICKS, A_ADD_TICKS,
                A_SIGNIFICANT, A_SUGGESTIVE, A_LRS, A_ADD,
                "A", "57px", 30, (12.7, 22.3, 31.5, 40.7), A_HEADER, (13.5, 24.5, 35.5), 274)
pB = make_panel(470, 472, 545, 887, 19.33, 298.0, B_LRS_TICKS, B_ADD_TICKS,
                B_SIGNIFICANT, B_SUGGESTIVE, B_LRS, B_ADD,
                "B", "48px", 500, (493.3, 503.3, 512.3, 521.0), B_HEADER, (493.5, 505, 516.5), 754)

layout = column(pA, pB, spacing=0)
open("out.html", "w").write(file_html(layout, INLINE))
